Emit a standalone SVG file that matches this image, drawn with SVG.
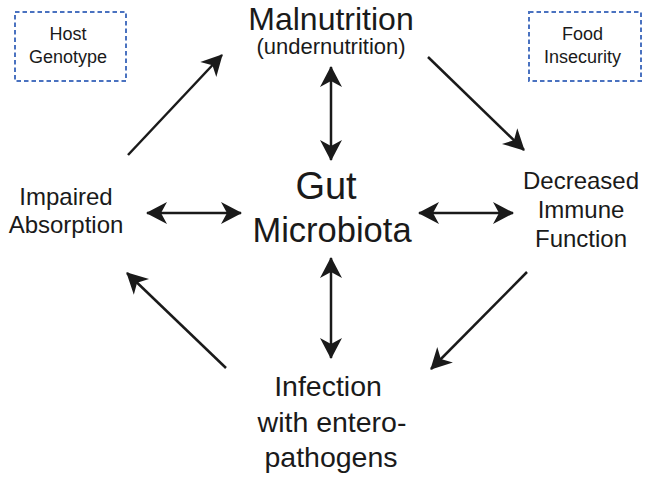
<svg xmlns="http://www.w3.org/2000/svg" width="649" height="482" viewBox="0 0 649 482">
<style>
text{font-family:"Liberation Sans",Arial,sans-serif;fill:#1a1a1a;text-anchor:middle}
.box{fill:none;stroke:#4a72c0;stroke-width:2;stroke-dasharray:4.5 3}
.c{stroke:#1a1a1a;stroke-width:2.5;fill:none}
.s{font-size:18px}
.m{font-size:24px}
.b{font-size:28.5px}
</style>
<defs>
<marker id="ah" viewBox="-22 -12 24 24" refX="0" refY="0" markerWidth="24" markerHeight="24" markerUnits="userSpaceOnUse" orient="auto-start-reverse">
<path d="M1,0 L-20,-11 L-14,0 L-20,11 Z" fill="#1a1a1a"/>
</marker>
</defs>
<rect width="649" height="482" fill="#fff"/>
<g id="host-genotype">
<rect class="box" x="15" y="12" width="111" height="69"/>
<text class="s" x="68" y="40">Host</text>
<text class="s" x="68" y="63">Genotype</text>
</g>
<g id="food-insecurity">
<rect class="box" x="529" y="12" width="112" height="69"/>
<text class="s" x="582.5" y="40">Food</text>
<text class="s" x="582.5" y="63">Insecurity</text>
</g>
<g id="malnutrition">
<text x="331" y="30" style="font-size:32px">Malnutrition</text>
<text x="331" y="54" style="font-size:22px">(undernutrition)</text>
</g>
<g id="gut-microbiota">
<text x="326" y="199" style="font-size:38px">Gut</text>
<text x="332" y="242" style="font-size:34.5px">Microbiota</text>
</g>
<g id="impaired-absorption">
<text class="m" x="66" y="205">Impaired</text>
<text class="m" x="66" y="233">Absorption</text>
</g>
<g id="decreased-immune">
<text class="m" x="581" y="189">Decreased</text>
<text class="m" x="581" y="218">Immune</text>
<text class="m" x="581" y="247">Function</text>
</g>
<g id="infection">
<text class="b" x="328" y="396">Infection</text>
<text class="b" x="332" y="432">with entero-</text>
<text class="b" x="331" y="467">pathogens</text>
</g>
<g id="connectors">
<line class="c" x1="331" y1="67" x2="331" y2="160" marker-start="url(#ah)" marker-end="url(#ah)"/>
<line class="c" x1="331" y1="258" x2="331" y2="358" marker-start="url(#ah)" marker-end="url(#ah)"/>
<line class="c" x1="147" y1="213" x2="241" y2="213" marker-start="url(#ah)" marker-end="url(#ah)"/>
<line class="c" x1="419" y1="213" x2="513" y2="213" marker-start="url(#ah)" marker-end="url(#ah)"/>
<line class="c" x1="128" y1="155" x2="222" y2="55" marker-end="url(#ah)"/>
<line class="c" x1="428" y1="57" x2="524" y2="150" marker-end="url(#ah)"/>
<line class="c" x1="527" y1="272" x2="431" y2="369" marker-end="url(#ah)"/>
<line class="c" x1="226" y1="368" x2="127" y2="273" marker-end="url(#ah)"/>
</g>
</svg>
